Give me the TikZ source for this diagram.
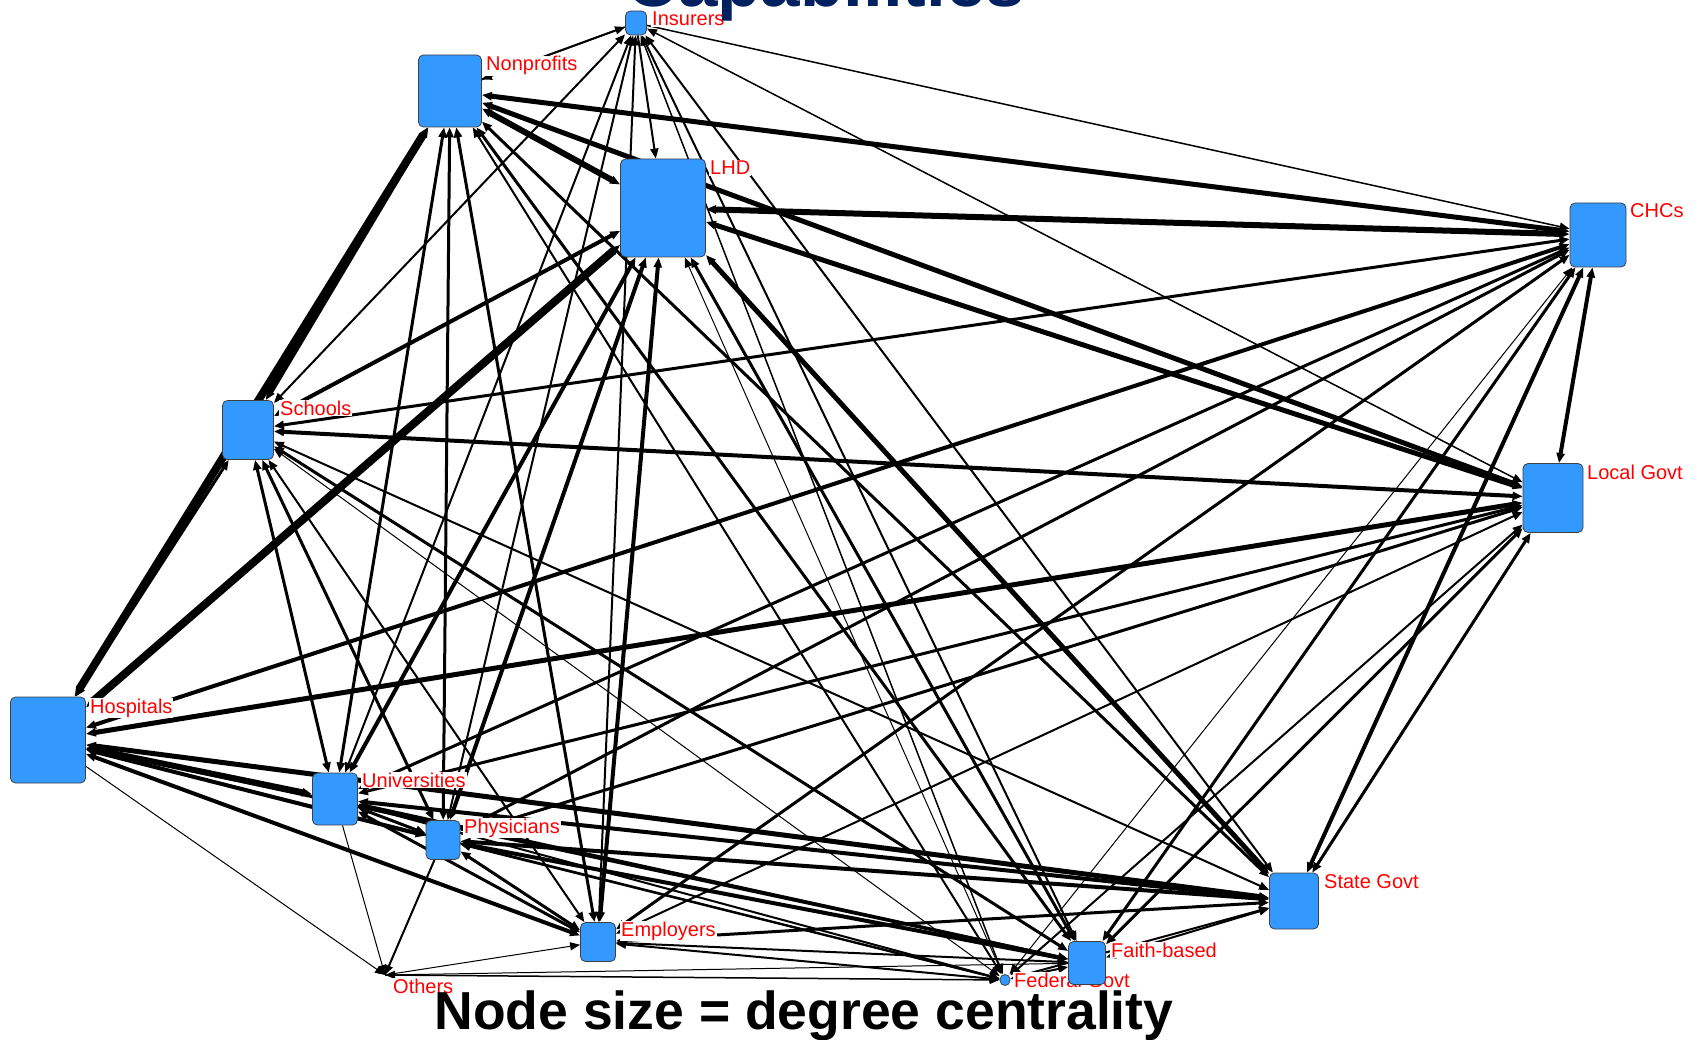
\documentclass[tikz,border=0pt]{standalone}
\usepackage{fontspec}
\setmainfont{Liberation Sans}
\usetikzlibrary{arrows.meta}
\definecolor{nodeblue}{RGB}{51,153,255}
\definecolor{titlenavy}{RGB}{0,32,96}
\definecolor{labelred}{RGB}{255,0,0}
\pgfdeclarelayer{edges}
\pgfdeclarelayer{labels}
\pgfsetlayers{edges,labels,main}

\tikzset{
  actor/.style={draw=black!75, line width=0.8pt, fill=nodeblue,
    rounded corners=5pt, inner sep=0pt},
  lbl/.style={text=labelred, font=\fontsize{20}{22}\selectfont,
    fill=white, inner sep=1pt, anchor=base west},
  both/.style={line width=#1,
    {Triangle[length=10pt,width=8pt]}-{Triangle[length=10pt,width=8pt]}},
  fwd/.style={line width=#1, -{Triangle[length=10pt,width=8pt]}},
}

% actor box: name, x, y, width, height
\newcommand\actorbox[5]{\node[actor, minimum width=#4pt, minimum height=#5pt] (#1) at (#2,#3) {};}

\begin{document}
\begin{tikzpicture}[x=1pt,y=-1pt]
\useasboundingbox (0,0) rectangle (1700,1040);

% actors
\actorbox{I}{636}{23}{21}{24}
\actorbox{N}{450}{91}{63}{72}
\actorbox{L}{663}{208}{85}{98}
\actorbox{C}{1598}{235}{56}{64}
\actorbox{G}{1553}{498}{60}{69}
\actorbox{S}{248}{430}{51}{59}
\actorbox{H}{48}{740}{75}{86}
\actorbox{U}{335}{799}{45}{52}
\actorbox{P}{443}{840}{34}{39}
\actorbox{E}{598}{942}{35}{39}
\coordinate (O) at (385,975);
\actorbox{F}{1005}{980}{10}{11}
\actorbox{B}{1087}{963}{37}{43}
\actorbox{T}{1294}{901}{49}{56}

% labels
\begin{pgfonlayer}{labels}
\node[lbl] (lI) at (651,26) {Insurers};
\node[lbl] (lN) at (485,71) {Nonprofits};
\node[lbl] (lL) at (709,175) {LHD};
\node[lbl] (lC) at (1629,218) {CHCs};
\node[lbl] (lG) at (1586,479) {Local Govt};
\node[lbl] (lS) at (279,415) {Schools};
\node[lbl] (lH) at (89,713) {Hospitals};
\node[lbl] (lU) at (361,787) {Universities};
\node[lbl] (lP) at (463,833) {Physicians};
\node[lbl] (lE) at (620,936) {Employers};
\node[lbl] (lO) at (392,993) {Others};
\node[lbl] (lF) at (1013,987) {Federal Govt};
\node[lbl] (lB) at (1110,957) {Faith-based};
\node[lbl] (lT) at (1323,888) {State Govt};
\end{pgfonlayer}

% ties
\begin{pgfonlayer}{edges}
% Insurers
\draw[fwd=2pt] (N) -- (I);
\draw[fwd=1.5pt] (I) -- (N);
\draw[fwd=2pt] (I) -- (L);
\draw[both=2pt] (I) -- (S);
\draw[both=2pt] (I) -- (U);
\draw[both=2pt] (I) -- (P);
\draw[both=2pt] (I) -- (E);
\draw[both=1.5pt] (I) -- (F);
\draw[both=2pt] (I) -- (B);
\draw[both=2pt] (I) -- (T);
\draw[both=1.5pt] (I) -- (G);
\draw[fwd=1.5pt] (I) -- (C);
% Hospitals
\draw[both=8pt] (H) -- (N);
\draw[both=8pt] (H) -- (L);
\draw[both=3pt] (H) -- (S);
\draw[both=5pt] (H) -- (G);
\draw[both=4pt] (H) -- (C);
\draw[both=6pt] (H) -- (U);
\draw[both=4pt] (H) -- (P);
\draw[both=4pt] (H) -- (E);
\draw[both=5pt] (H) -- (T);
\draw[both=3pt] (H) -- (B);
\draw[both=2pt] (H) -- (F);
\draw[fwd=1pt] (H) -- (O);
% Schools
\draw[both=5pt] (S) -- (N);
\draw[both=4pt] (S) -- (L);
\draw[both=3pt] (S) -- (C);
\draw[both=4pt] (S) -- (G);
\draw[both=3pt] (S) -- (U);
\draw[both=3pt] (S) -- (P);
\draw[both=2pt] (S) -- (E);
\draw[both=3pt] (S) -- (B);
\draw[both=1pt] (S) -- (F);
\draw[both=2pt] (S) -- (T);
% Nonprofits
\draw[both=6pt] (N) -- (L);
\draw[both=5pt] (N) -- (C);
\draw[both=5pt] (N) -- (G);
\draw[both=3pt] (N) -- (U);
\draw[both=3pt] (N) -- (P);
\draw[both=3pt] (N) -- (E);
\draw[both=3pt] (N) -- (B);
\draw[both=2pt] (N) -- (F);
\draw[both=3pt] (N) -- (T);
% LHD
\draw[both=6pt] (L) -- (C);
\draw[both=5pt] (L) -- (G);
\draw[both=5pt] (L) -- (T);
\draw[both=4pt] (L) -- (U);
\draw[both=4pt] (L) -- (P);
\draw[both=4pt] (L) -- (E);
\draw[both=3pt] (L) -- (B);
\draw[both=1pt] (L) -- (F);
% CHCs
\draw[both=4pt] (C) -- (G);
\draw[both=4pt] (C) -- (T);
\draw[both=3pt] (C) -- (B);
\draw[both=3pt] (C) -- (E);
\draw[both=3pt] (C) -- (P);
\draw[both=3pt] (C) -- (U);
\draw[both=1pt] (C) -- (F);
% Local Govt
\draw[both=3pt] (G) -- (T);
\draw[both=3pt] (G) -- (B);
\draw[both=2pt] (G) -- (F);
\draw[both=2pt] (G) -- (E);
\draw[both=3pt] (G) -- (P);
\draw[both=3pt] (G) -- (U);
% State Govt
\draw[both=4pt] (T) -- (U);
\draw[both=4pt] (T) -- (P);
\draw[both=3pt] (T) -- (E);
\draw[both=2pt] (T) -- (B);
\draw[both=2pt] (T) -- (F);
% Faith-based
\draw[both=3pt] (B) -- (U);
\draw[both=4pt] (B) -- (P);
\draw[both=2pt] (B) -- (E);
\draw[both=2pt] (B) -- (F);
\draw[fwd=1pt] (B) -- (O);
% Federal Govt
\draw[both=2pt] (F) -- (U);
\draw[both=2pt] (F) -- (P);
\draw[both=2pt] (F) -- (E);
\draw[fwd=1.5pt] (O) -- (F);
% Employers, Physicians, Universities
\draw[both=3pt] (E) -- (U);
\draw[both=3pt] (E) -- (P);
\draw[fwd=1pt] (O) -- (E);
\draw[both=3pt] (P) -- (U);
\draw[fwd=2pt] (P) -- (O);
\draw[fwd=1pt] (U) -- (O);
\end{pgfonlayer}

% headline, cut by the top edge, and the caption
\node[anchor=base, text=titlenavy, font=\bfseries\fontsize{71}{80}\selectfont,
  inner sep=0pt] (title) at (826,7) {Capabilities};
\node[anchor=base, font=\bfseries\fontsize{53.5}{60}\selectfont, inner sep=0pt]
  (caption) at (804,1029) {Node size = degree centrality};
\end{tikzpicture}
\end{document}
